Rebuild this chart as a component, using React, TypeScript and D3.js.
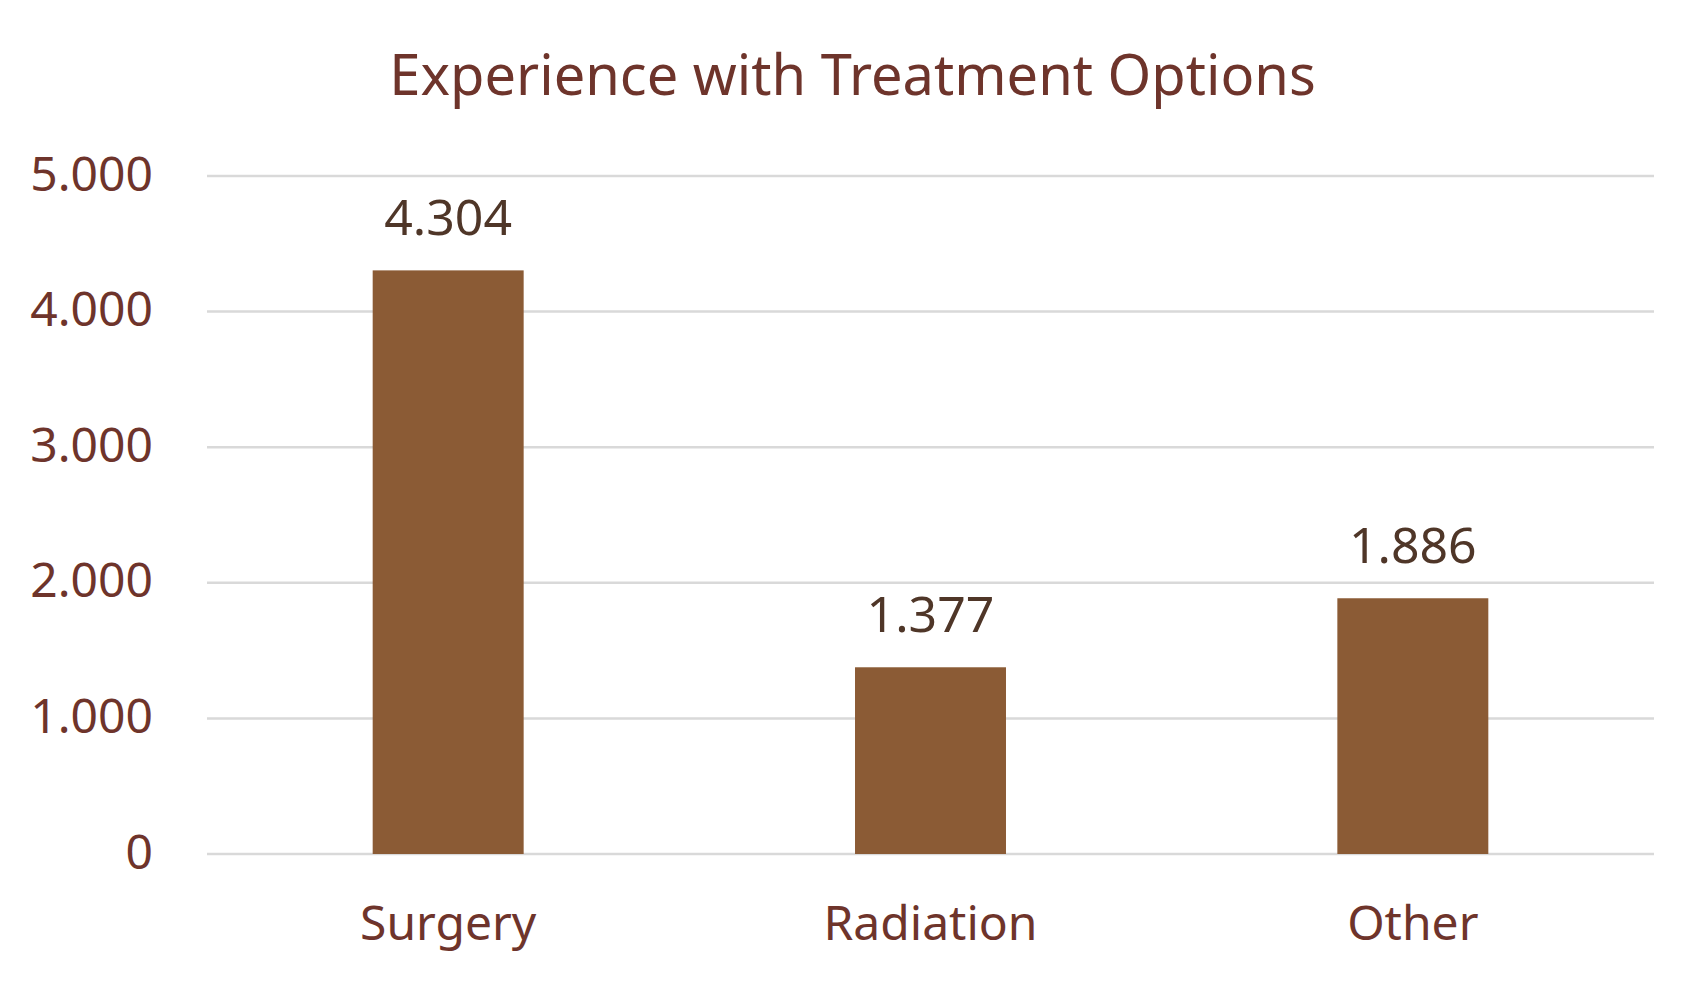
import * as d3 from 'd3';
import React, { useRef, useEffect } from 'react';

const categories = ['Surgery', 'Radiation', 'Other'];
const values = [4304, 1377, 1886];
const yTicks = [0, 1000, 2000, 3000, 4000, 5000];
const yTickLabels = ['0', '1.000', '2.000', '3.000', '4.000', '5.000'];
const valueLabels = ['4.304', '1.377', '1.886'];
const title = 'Experience with Treatment Options';

const W = 1705;
const H = 990;
const margin = { top: 176, left: 207, right: 51, bottom: 136 };
const width = W - margin.left - margin.right;
const height = H - margin.top - margin.bottom;

const font = '"Noto Sans", "Open Sans", sans-serif';
const labelColor = '#6E342B';
const valueColor = '#4F3628';
const barColor = '#8B5B35';
const gridColor = '#D9D9D9';

const App = () => {
  const containerRef = useRef<HTMLDivElement>(null);

  useEffect(() => {
    if (!containerRef.current) return;
    d3.select(containerRef.current).selectAll('*').remove();

    const root = d3
      .select(containerRef.current)
      .append('svg')
      .attr('width', W)
      .attr('height', H)
      .style('position', 'absolute')
      .style('left', '0px')
      .style('top', '0px')
      .style('background', '#ffffff');

    root
      .append('text')
      .attr('x', W / 2)
      .attr('y', 95)
      .attr('text-anchor', 'middle')
      .attr('font-family', font)
      .attr('font-size', 56)
      .attr('fill', labelColor)
      .text(title);

    const svg = root
      .append('g')
      .attr('transform', `translate(${margin.left}, ${margin.top})`);

    const x = d3
      .scaleBand()
      .domain(categories)
      .range([0, width])
      .paddingInner(0.687)
      .paddingOuter(0.3435);

    const y = d3.scaleLinear().domain([0, 5000]).range([height, 0]);

    // gridlines
    svg
      .append('g')
      .selectAll('line')
      .data(yTicks)
      .join('line')
      .attr('x1', 0)
      .attr('x2', width)
      .attr('y1', (d) => y(d))
      .attr('y2', (d) => y(d))
      .attr('stroke', gridColor)
      .attr('stroke-width', 2.5);

    // y tick labels
    svg
      .append('g')
      .selectAll('text')
      .data(yTicks)
      .join('text')
      .attr('x', -54)
      .attr('y', (d) => y(d) + 14.5)
      .attr('text-anchor', 'end')
      .attr('font-family', font)
      .attr('font-size', 48)
      .attr('fill', labelColor)
      .text((d, i) => yTickLabels[i]);

    // bars
    svg
      .append('g')
      .selectAll('rect')
      .data(values)
      .join('rect')
      .attr('x', (d, i) => x(categories[i]) as number)
      .attr('width', x.bandwidth())
      .attr('y', (d) => y(d))
      .attr('height', (d) => height - y(d))
      .attr('fill', barColor);

    // value labels
    svg
      .append('g')
      .selectAll('text')
      .data(values)
      .join('text')
      .attr('x', (d, i) => (x(categories[i]) as number) + x.bandwidth() / 2)
      .attr('y', (d) => y(d) - 35)
      .attr('text-anchor', 'middle')
      .attr('font-family', font)
      .attr('font-size', 50)
      .attr('fill', valueColor)
      .text((d, i) => valueLabels[i]);

    // category labels
    svg
      .append('g')
      .selectAll('text')
      .data(categories)
      .join('text')
      .attr('x', (d) => (x(d) as number) + x.bandwidth() / 2)
      .attr('y', height + 86)
      .attr('text-anchor', 'middle')
      .attr('font-family', font)
      .attr('font-size', 48)
      .attr('fill', labelColor)
      .text((d) => d);
  }, []);

  return <div ref={containerRef}></div>;
};

export default App;
